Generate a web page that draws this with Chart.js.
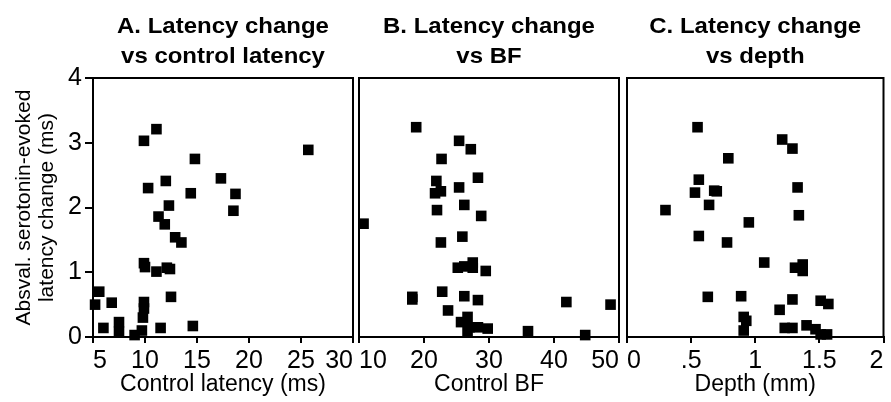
<!DOCTYPE html>
<html>
<head>
<meta charset="utf-8">
<script src="https://cdn.jsdelivr.net/npm/chart.js@4.4.1/dist/chart.umd.min.js"></script>
<style>
  html, body { margin: 0; padding: 0; background: #fff; }
  #wrap { position: relative; width: 891px; height: 402px; }
  #wrap canvas { position: absolute; left: 0; top: 0; }
</style>
</head>
<body>
<div id="wrap">
  <canvas id="chartA" width="891" height="402"></canvas>
  <canvas id="chartB" width="891" height="402"></canvas>
  <canvas id="chartC" width="891" height="402"></canvas>
</div>
<script>
// panel A: latency change vs control latency
const latA = [9.9, 11.1, 14.8, 25.7, 10.3, 12.0, 14.4, 17.3, 18.7, 18.5, 12.3, 11.3, 11.9, 12.9, 13.5, 9.9, 10.0, 11.1, 12.1, 12.4, 12.5, 5.6, 5.2, 6.8, 6.0, 7.5, 7.5, 9.0, 9.9, 9.9, 9.8, 9.7, 11.5, 14.6];
const chgA = [3.03, 3.21, 2.75, 2.89, 2.30, 2.41, 2.22, 2.45, 2.21, 1.95, 2.03, 1.86, 1.74, 1.54, 1.46, 1.14, 1.08, 1.01, 1.07, 1.05, 0.62, 0.70, 0.50, 0.53, 0.14, 0.23, 0.08, 0.03, 0.54, 0.44, 0.30, 0.10, 0.14, 0.17];

// panel B: latency change vs BF
const bfB = [18.8, 25.4, 27.2, 22.7, 21.9, 28.3, 21.7, 22.6, 25.4, 26.2, 22.0, 28.8, 10.7, 25.9, 22.6, 25.2, 26.2, 27.5, 27.5, 29.5, 18.2, 18.2, 22.8, 26.2, 28.3, 41.9, 48.7, 23.7, 25.7, 26.7, 27.0, 28.3, 29.8, 26.7, 36.0, 44.8];
const chgB = [3.24, 3.03, 2.90, 2.75, 2.41, 2.46, 2.22, 2.25, 2.31, 2.04, 1.96, 1.87, 1.75, 1.55, 1.46, 1.07, 1.09, 1.15, 1.07, 1.02, 0.62, 0.58, 0.70, 0.63, 0.57, 0.54, 0.50, 0.41, 0.23, 0.31, 0.15, 0.15, 0.13, 0.08, 0.09, 0.03];

// panel C: latency change vs depth
const depthC = [0.55, 1.21, 1.29, 0.79, 0.56, 0.53, 0.70, 0.68, 0.64, 1.33, 0.30, 1.34, 0.95, 0.56, 0.78, 1.07, 1.31, 1.37, 1.37, 0.63, 0.89, 1.29, 1.51, 1.57, 1.19, 0.91, 0.93, 0.91, 1.23, 1.29, 1.40, 1.47, 1.56, 1.51];
const chgC = [3.24, 3.05, 2.91, 2.76, 2.43, 2.23, 2.25, 2.26, 2.04, 2.31, 1.96, 1.88, 1.77, 1.56, 1.46, 1.15, 1.07, 1.12, 1.02, 0.62, 0.63, 0.58, 0.56, 0.51, 0.42, 0.31, 0.25, 0.10, 0.14, 0.14, 0.18, 0.12, 0.04, 0.04];

const yTitle = ['Absval. serotonin-evoked', 'latency change (ms)'];

Chart.defaults.color = '#000';
Chart.defaults.font.family = '"Liberation Sans", Arial, sans-serif';

// two-line bold title centred over the plot box, plus the closed frame
const panelFrame = {
  id: 'panelFrame',
  afterDraw(chart, args, opts) {
    const { ctx, chartArea: a } = chart;
    ctx.save();
    ctx.strokeStyle = '#000';
    ctx.lineWidth = 2;
    ctx.strokeRect(a.left, a.top, a.right - a.left, a.bottom - a.top);
    ctx.fillStyle = '#000';
    ctx.font = 'bold 22px "Liberation Sans", Arial, sans-serif';
    ctx.textAlign = 'center';
    ctx.textBaseline = 'alphabetic';
    const cx = (a.left + a.right) / 2;
    opts.lines.forEach((t, i) => {
      ctx.save();
      ctx.translate(cx, 33 + i * 30);
      ctx.scale(1.09, 1);
      ctx.fillText(t, 0, 0);
      ctx.restore();
    });
    ctx.restore();
  }
};

function makePanel(id, xs, ys, cfg) {
  const pts = xs.map((x, i) => ({ x: x, y: ys[i] }));
  return new Chart(document.getElementById(id), {
    type: 'scatter',
    data: {
      datasets: [{
        data: pts,
        pointStyle: 'rect',
        pointRadius: 7.5,
        pointHoverRadius: 7.5,
        backgroundColor: '#000',
        borderWidth: 0,
        clip: false
      }]
    },
    options: {
      responsive: false,
      animation: false,
      layout: { padding: { top: 78, left: cfg.left, right: cfg.right, bottom: 0 } },
      plugins: {
        legend: { display: false },
        tooltip: { enabled: false },
        panelFrame: { lines: cfg.title }
      },
      scales: {
        x: {
          type: 'linear',
          min: cfg.xmin,
          max: cfg.xmax,
          afterFit(s) { s.height = 65; s.paddingLeft = 0; s.paddingRight = 0; },
          ticks: {
            stepSize: cfg.step,
            padding: 3,
            maxRotation: 0,
            align: 'inner',
            font: { size: 25 },
            callback: cfg.fmt || (v => v)
          },
          grid: { drawOnChartArea: false, drawTicks: true, tickLength: 6, color: '#000', lineWidth: 2 },
          border: { display: true, color: '#000', width: 2 },
          title: {
            display: true,
            text: cfg.xTitle,
            font: { size: 23 },
            padding: { top: 0, bottom: 4 }
          }
        },
        y: {
          display: cfg.showY,
          min: 0,
          max: 4,
          afterFit(s) { s.width = cfg.showY ? 93 : 0; s.paddingTop = 0; s.paddingBottom = 0; },
          ticks: { stepSize: 1, padding: 3, font: { size: 25 } },
          grid: { drawOnChartArea: false, drawTicks: true, tickLength: 8, color: '#000', lineWidth: 2 },
          border: { display: true, color: '#000', width: 2 },
          title: {
            display: true,
            text: yTitle,
            font: { size: 21, lineHeight: 1.1 },
            padding: { top: 13, bottom: 0 }
          }
        }
      }
    },
    plugins: [panelFrame]
  });
}

makePanel('chartA', latA, chgA, {
  left: 0, right: 538, xmin: 5, xmax: 30, step: 5, showY: true,
  xTitle: 'Control latency (ms)',
  title: ['A. Latency change', 'vs control latency']
});
makePanel('chartB', bfB, chgB, {
  left: 359, right: 272, xmin: 10, xmax: 50, step: 10, showY: false,
  xTitle: 'Control BF',
  title: ['B. Latency change', 'vs BF']
});
makePanel('chartC', depthC, chgC, {
  left: 627, right: 4, xmin: 0, xmax: 2, step: 0.5, showY: false,
  xTitle: 'Depth (mm)',
  title: ['C. Latency change', 'vs depth'],
  fmt: v => (v > 0 && v < 1 ? String(v).replace(/^0/, '') : String(v))
});
</script>
</body>
</html>
